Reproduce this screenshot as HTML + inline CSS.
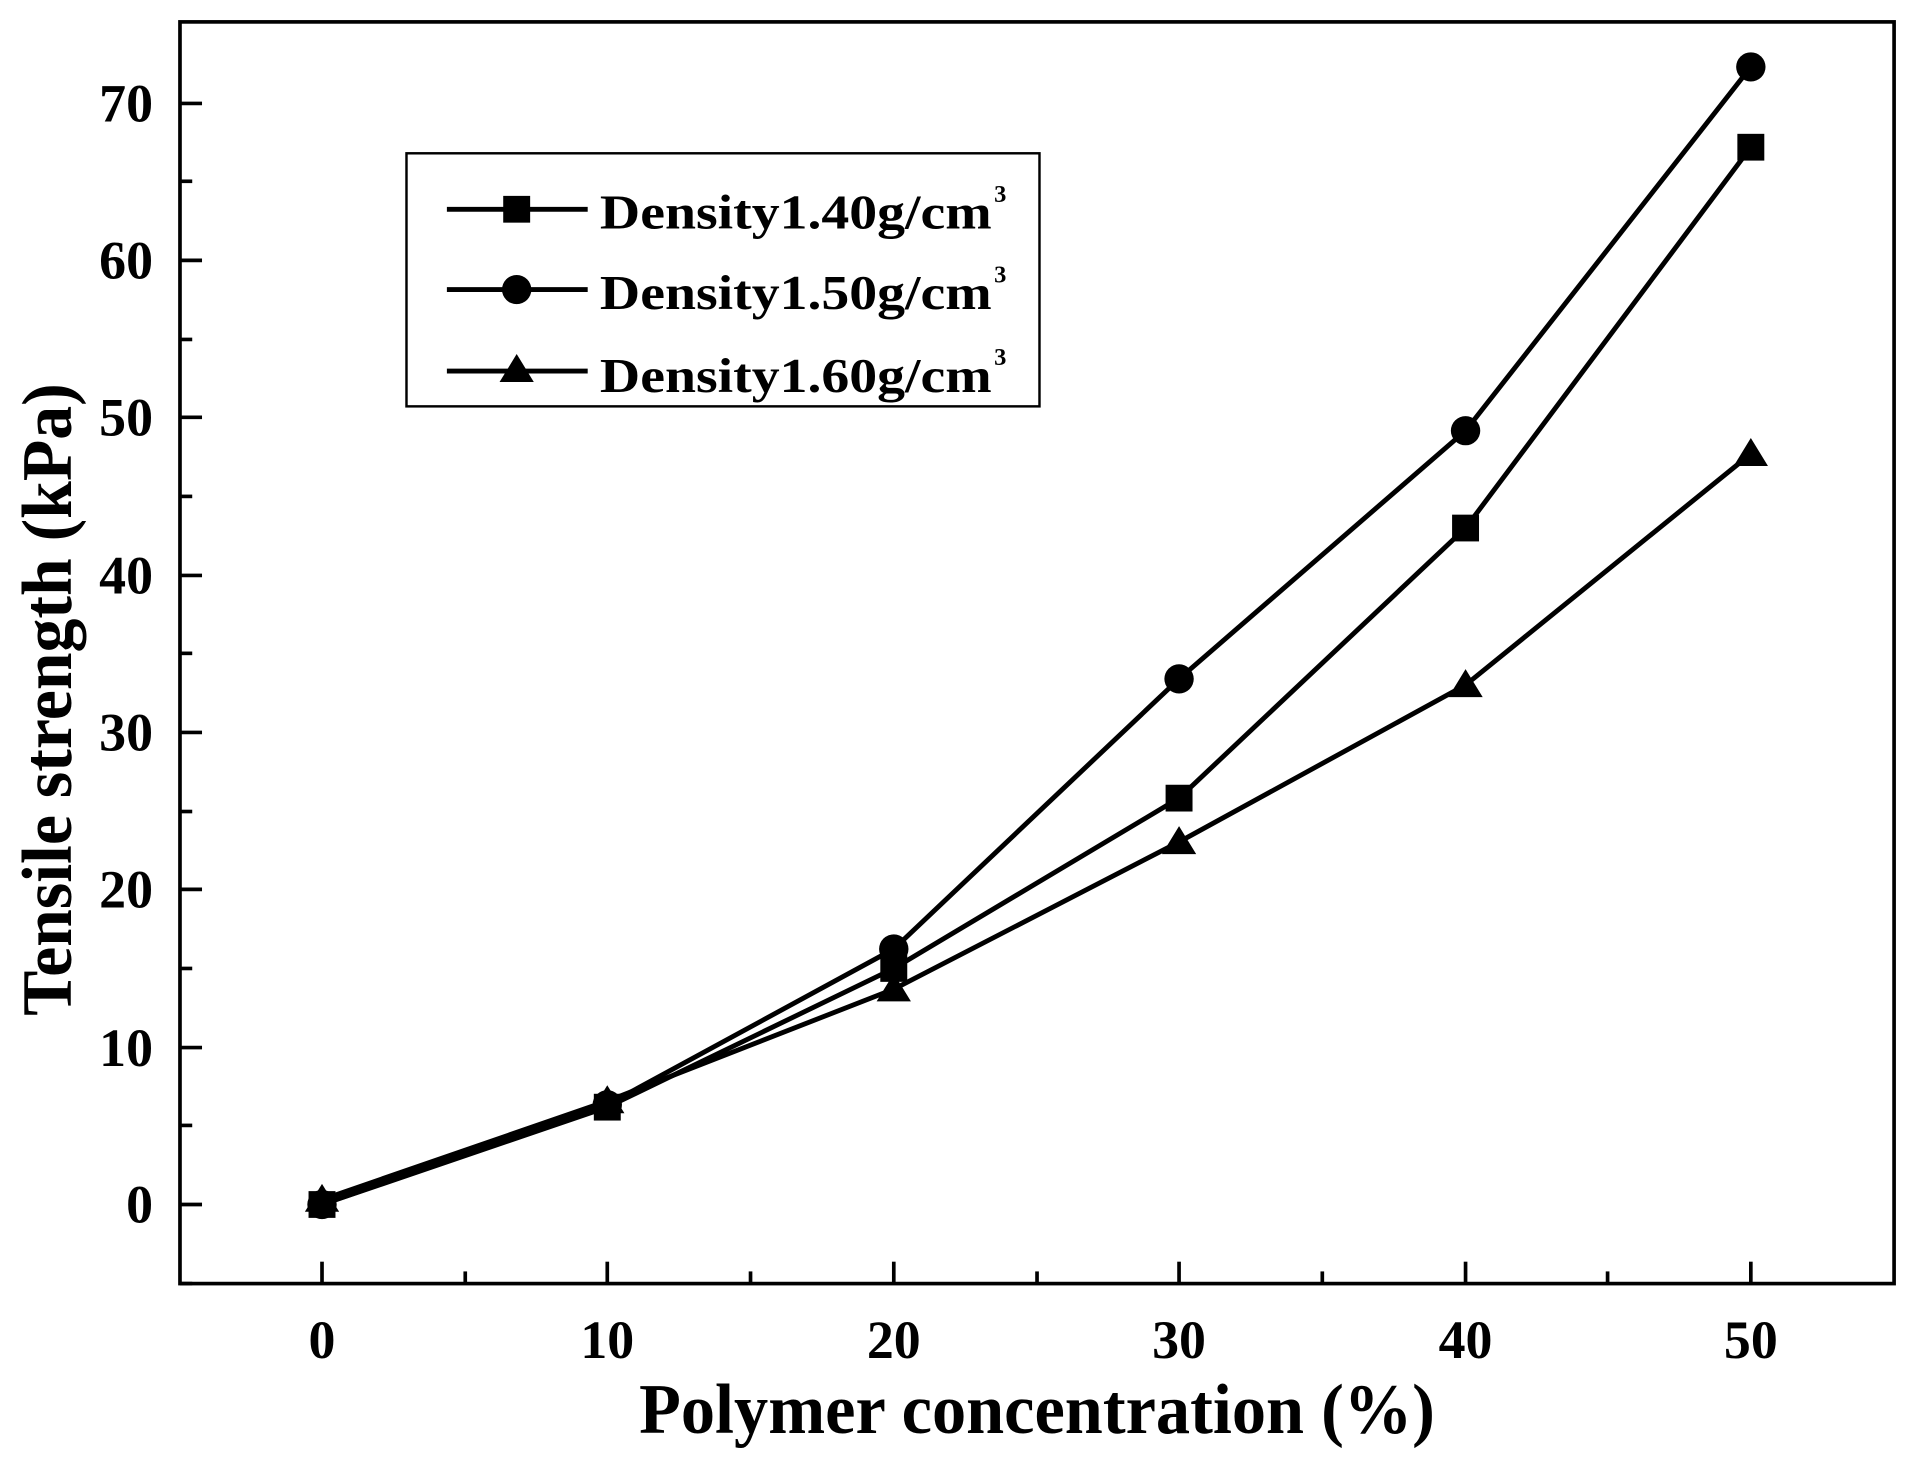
<!DOCTYPE html>
<html><head><style>body{margin:0;background:#fff}svg{display:block}</style></head><body>
<svg width="1910" height="1460" viewBox="0 0 1560 1200" preserveAspectRatio="none" xmlns="http://www.w3.org/2000/svg" font-family="Liberation Serif, serif" font-weight="bold">
<rect x="147" y="18" width="1400" height="1037" fill="none" stroke="#000" stroke-width="3"/>
<g stroke="#000" stroke-width="3">
<line x1="147" y1="990" x2="165" y2="990"/><line x1="147" y1="861" x2="165" y2="861"/><line x1="147" y1="731" x2="165" y2="731"/><line x1="147" y1="602" x2="165" y2="602"/><line x1="147" y1="473" x2="165" y2="473"/><line x1="147" y1="343" x2="165" y2="343"/><line x1="147" y1="214" x2="165" y2="214"/><line x1="147" y1="85" x2="165" y2="85"/>
<line x1="147" y1="1055" x2="157" y2="1055"/><line x1="147" y1="925" x2="157" y2="925"/><line x1="147" y1="796" x2="157" y2="796"/><line x1="147" y1="667" x2="157" y2="667"/><line x1="147" y1="537" x2="157" y2="537"/><line x1="147" y1="408" x2="157" y2="408"/><line x1="147" y1="279" x2="157" y2="279"/><line x1="147" y1="149" x2="157" y2="149"/>
<line x1="263" y1="1055" x2="263" y2="1037"/><line x1="496" y1="1055" x2="496" y2="1037"/><line x1="730" y1="1055" x2="730" y2="1037"/><line x1="963" y1="1055" x2="963" y2="1037"/><line x1="1197" y1="1055" x2="1197" y2="1037"/><line x1="1430" y1="1055" x2="1430" y2="1037"/>
<line x1="380" y1="1055" x2="380" y2="1045"/><line x1="613" y1="1055" x2="613" y2="1045"/><line x1="847" y1="1055" x2="847" y2="1045"/><line x1="1080" y1="1055" x2="1080" y2="1045"/><line x1="1313" y1="1055" x2="1313" y2="1045"/>
</g>
<g font-size="44" text-anchor="end">
<text x="125" y="1005">0</text><text x="125" y="876">10</text><text x="125" y="746">20</text><text x="125" y="617">30</text><text x="125" y="488">40</text><text x="125" y="358">50</text><text x="125" y="229">60</text><text x="125" y="100">70</text>
</g>
<g font-size="44" text-anchor="middle">
<text x="263" y="1116">0</text><text x="496" y="1116">10</text><text x="730" y="1116">20</text><text x="963" y="1116">30</text><text x="1197" y="1116">40</text><text x="1430" y="1116">50</text>
</g>
<text transform="translate(847,1178) scale(1,1.12)" font-size="52" text-anchor="middle" textLength="650" lengthAdjust="spacingAndGlyphs">Polymer concentration (%)</text>
<text transform="translate(58,575) rotate(-90) scale(1,1.12)" font-size="52" text-anchor="middle" textLength="520" lengthAdjust="spacingAndGlyphs">Tensile strength (kPa)</text>
<g fill="none" stroke="#000" stroke-width="4">
<polyline points="263,990 496,910 730,796 963,656 1197,434 1430,121"/>
<polyline points="263,990 496,908 730,780 963,558 1197,354 1430,55"/>
<polyline points="263,986 496,905 730,813 963,692 1197,563 1430,373"/>
</g>
<g fill="#000">
<rect x="252" y="979" width="22" height="22"/><rect x="485" y="899" width="22" height="22"/><rect x="719" y="785" width="22" height="22"/><rect x="952" y="645" width="22" height="22"/><rect x="1186" y="423" width="22" height="22"/><rect x="1419" y="110" width="22" height="22"/>
<circle cx="263" cy="990" r="12"/><circle cx="496" cy="908" r="12"/><circle cx="730" cy="780" r="12"/><circle cx="963" cy="558" r="12"/><circle cx="1197" cy="354" r="12"/><circle cx="1430" cy="55" r="12"/>
<path d="M263,973 L277,996 L249,996Z M496,892 L510,915 L482,915Z M730,800 L744,823 L716,823Z M963,679 L977,702 L949,702Z M1197,550 L1211,573 L1183,573Z M1430,360 L1444,383 L1416,383Z"/>
</g>
<rect x="332" y="126" width="517" height="208" fill="#fff" stroke="#000" stroke-width="2"/>
<g stroke="#000" stroke-width="4"><line x1="365" y1="172" x2="480" y2="172"/><line x1="365" y1="238" x2="480" y2="238"/><line x1="365" y1="305" x2="480" y2="305"/></g>
<rect x="411" y="161" width="22" height="22"/><circle cx="422" cy="238" r="12"/><path d="M422,291 L436,314 L408,314Z"/>
<g font-size="40">
<text x="490" y="188" textLength="320" lengthAdjust="spacingAndGlyphs">Density1.40g/cm</text><text x="812" y="166" font-size="20">3</text>
<text x="490" y="254" textLength="320" lengthAdjust="spacingAndGlyphs">Density1.50g/cm</text><text x="812" y="232" font-size="20">3</text>
<text x="490" y="322" textLength="320" lengthAdjust="spacingAndGlyphs">Density1.60g/cm</text><text x="812" y="300" font-size="20">3</text>
</g>
</svg>
</body></html>
